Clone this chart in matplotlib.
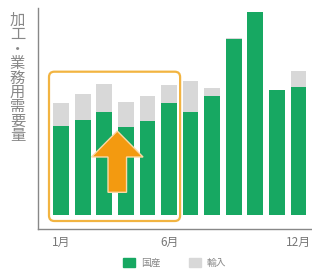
import matplotlib
matplotlib.use("Agg")
import matplotlib.pyplot as plt
from matplotlib.patches import FancyBboxPatch, FancyArrow, Patch

plt.rcParams['font.family'] = ['Noto Sans CJK JP', 'DejaVu Sans']

# data (arbitrary units)
months = list(range(1, 13))
domestic = [89, 95, 103, 88, 94, 112, 103, 119, 176, 203, 125, 128]
imported = [23, 26, 28, 25, 25, 18, 31, 8, 1, 0, 0, 16]
tick_pos = [0, 5, 11]
tick_labels = ["1月", "6月", "12月"]
legend_labels = ["国産", "輸入"]
ylabel = "加工・業務用需要量"

green = "#17a862"
grey = "#d8d8d8"
orange = "#f39a10"
box_col = "#f2b441"

fig = plt.figure(figsize=(3.12, 2.70), dpi=100)
ax = fig.add_axes([37.7 / 312, 41.5 / 270, 1 - 37.7 / 312, 220.5 / 270])

x = list(range(len(months)))
ax.bar(x, domestic, width=0.73, color=green)
ax.bar(x, imported, width=0.73, bottom=domestic, color=grey)

ax.set_xlim(-1.09, 11.63)
ax.set_ylim(-13.5, 207)

# highlight box for Jan-Jun
box = FancyBboxPatch((-0.566, -6), 6.08, 149.3,
                     boxstyle="round,pad=0,rounding_size=0.25",
                     mutation_aspect=21.57,
                     fill=False, edgecolor=box_col, linewidth=1.6, zorder=3)
ax.add_patch(box)

# upward arrow
arrow = FancyArrow(2.6, 22.7, 0, 35.3, width=0.86, head_width=2.39,
                   head_length=26, length_includes_head=False,
                   facecolor=orange, edgecolor="#fbd9a6", linewidth=1, zorder=4)
ax.add_patch(arrow)

ax.set_xticks(tick_pos)
ax.set_xticklabels(tick_labels, fontsize=8.5, color="#777777")
ax.set_yticks([])
ax.tick_params(axis='x', length=0, pad=5)
for s in ["top", "right"]:
    ax.spines[s].set_visible(False)
ax.spines["left"].set_color("#888888")
ax.spines["bottom"].set_color("#888888")
ax.spines["left"].set_linewidth(1)
ax.spines["bottom"].set_linewidth(1)

fig.text(17.5 / 312, 1 - 78 / 270, "\n".join(ylabel), fontsize=11,
         color="#888888", ha="center", va="center", linespacing=0.8)

handles = [Patch(color=green), Patch(color=grey)]
ax.legend(handles, legend_labels, loc="center", bbox_to_anchor=(0.5, -0.155),
          ncol=2, frameon=False, fontsize=7, labelcolor="#888888",
          handlelength=1.2, handleheight=1.1, handletextpad=0.6, columnspacing=3.0)

fig.savefig("out.png", dpi=100)
